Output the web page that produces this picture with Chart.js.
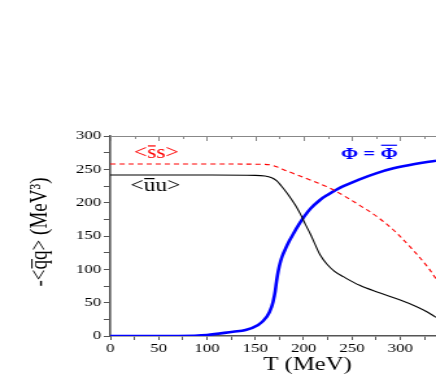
<!DOCTYPE html>
<html>
<head>
<meta charset="utf-8">
<script src="https://cdn.jsdelivr.net/npm/chart.js@4.4.0/dist/chart.umd.min.js"></script>
<style>
  html, body { margin: 0; padding: 0; background: #fff; overflow: hidden; }
  #wrap { width: 436px; height: 382px; }
  /* the original figure is stretched sideways */
  #condChart { transform: scaleX(1.2976); transform-origin: 0 0; display: block; }
</style>
</head>
<body>
<div id="wrap"><canvas id="condChart" width="336" height="382"></canvas></div>
<script>
// temperature grids (MeV) and condensates
const tUU = [0, 100, 150, 160, 167, 172, 177, 182, 187, 192, 197, 202, 207, 212, 217, 224, 232, 241, 258, 276, 300, 317, 328, 337];
const uuVals = [241.5, 241.5, 241, 240, 237.5, 233, 225, 216, 206, 195, 182, 167, 153, 137, 122, 108, 97, 89, 76, 66, 54, 44, 36, 28];

const tSS = [0, 100, 160, 166, 172, 180, 189, 205, 224, 241, 258, 276, 293, 310, 327, 337];
const ssVals = [258, 258, 257.5, 256.5, 254, 249, 244, 235, 224, 211, 196, 179, 159, 134, 106, 86];

const tPhi = [0, 70, 100, 127, 140, 153, 162, 167, 170, 172, 174, 176, 178, 181, 185, 190, 195, 200, 207, 217, 224, 240, 258, 275, 293, 315, 337];
const phiVals = [0, 0, 1.5, 6.5, 9, 16.5, 29, 44, 62, 82, 99, 111, 120, 130, 142, 155, 167, 178, 191, 204, 211, 224, 235, 244, 251.5, 258, 263];

const xTicks = [0, 50, 100, 150, 200, 250, 300];
const yTicks = [0, 50, 100, 150, 200, 250, 300];

// curve labels; bar = index of the character carrying the overline
const curveLabels = ['<ss>', '<uu>', '\u03A6 = \u03A6'];
const labelBar = [1, 1, 4];
const labelAt = [[47.6, 274], [46.5, 225], [268, 272]];   // data coords
const labelColor = ['#ff0000', '#000000', '#0000ff'];

const xTitle = 'T (MeV)';
const yTitle = '-<q\u0305q> (MeV\u00B3)';

const serif = '"Liberation Serif", "DejaVu Serif", serif';

function pts(xs, ys) {
  return xs.map((x, i) => ({ x: x, y: ys[i] }));
}

// minor ticks every 25
function tickList(max) {
  const out = [];
  for (let v = 0; v <= max; v += 25) out.push({ value: v });
  return out;
}

function barText(ctx, txt, bar, cx, cy, lift) {
  const w = ctx.measureText(txt).width;
  const x0 = cx - w / 2;
  ctx.textAlign = 'left';
  ctx.fillText(txt, x0, cy);
  const a = ctx.measureText(txt.slice(0, bar)).width;
  const b = ctx.measureText(txt.slice(0, bar + 1)).width;
  ctx.fillRect(x0 + a + 0.5, cy - lift, b - a - 1, 1.2);
}

const extras = {
  id: 'extras',
  afterDatasetsDraw(chart) {
    const ctx = chart.ctx;
    const xs = chart.scales.x, ys = chart.scales.y;
    const a = chart.chartArea;
    ctx.save();
    ctx.textBaseline = 'middle';
    curveLabels.forEach((txt, i) => {
      ctx.fillStyle = labelColor[i];
      ctx.font = (i === 2 ? 'bold 16px ' : '18px ') + serif;
      barText(ctx, txt, labelBar[i], xs.getPixelForValue(labelAt[i][0]),
        ys.getPixelForValue(labelAt[i][1]), i === 2 ? 10 : 8);
    });

    // axis titles
    ctx.textAlign = 'center';
    ctx.fillStyle = '#000';
    ctx.font = '19px ' + serif;
    ctx.fillText(xTitle, 237, 365);
    ctx.save();
    ctx.translate(31, 232);
    ctx.rotate(-Math.PI / 2);
    ctx.fillText(yTitle, 0, 0);
    ctx.restore();

    // top frame line with inward ticks
    ctx.strokeStyle = '#888';
    ctx.lineWidth = 1;
    ctx.beginPath();
    ctx.moveTo(a.left, a.top + 0.5);
    ctx.lineTo(a.right, a.top + 0.5);
    tickList(336).forEach(t => {
      const px = Math.round(xs.getPixelForValue(t.value)) + 0.5;
      ctx.moveTo(px, a.top);
      ctx.lineTo(px, a.top + (t.value % 50 === 0 ? 5 : 3));
    });
    ctx.stroke();
    ctx.restore();
  }
};

new Chart(document.getElementById('condChart'), {
  type: 'line',
  data: {
    datasets: [
      {
        label: 'uu',
        data: pts(tUU, uuVals),
        borderColor: '#000000',
        borderWidth: 1.1,
        pointRadius: 0,
        tension: 0.35
      },
      {
        label: 'ss',
        data: pts(tSS, ssVals),
        borderColor: '#ff0000',
        borderWidth: 1.1,
        borderDash: [4, 3],
        pointRadius: 0,
        tension: 0.35
      },
      {
        label: 'phi',
        data: pts(tPhi, phiVals),
        borderColor: '#0000ff',
        borderWidth: 2.6,
        pointRadius: 0,
        tension: 0.35
      }
    ]
  },
  options: {
    responsive: false,
    animation: false,
    layout: { padding: { top: 136, right: 0, left: 0, bottom: 0 } },
    plugins: {
      legend: { display: false },
      tooltip: { enabled: false }
    },
    scales: {
      x: {
        type: 'linear',
        min: 0,
        max: 337,
        afterBuildTicks: axis => { axis.ticks = tickList(336); },
        afterFit: scale => { scale.height = 46; },
        border: { color: '#555', width: 1.6 },
        grid: { drawOnChartArea: false, tickLength: 4, color: '#555' },
        ticks: {
          autoSkip: false,
          maxRotation: 0,
          padding: 1,
          color: '#000',
          font: { family: serif, size: 13 },
          callback: v => (xTicks.includes(v) ? String(v) : '')
        }
      },
      y: {
        min: 0,
        max: 300,
        afterBuildTicks: axis => { axis.ticks = tickList(300); },
        afterFit: scale => { scale.width = 85; },
        border: { color: '#555', width: 1.6 },
        grid: { drawOnChartArea: false, tickLength: 5, color: '#555' },
        ticks: {
          autoSkip: false,
          padding: 2,
          color: '#000',
          font: { family: serif, size: 13 },
          callback: v => (yTicks.includes(v) ? String(v) : '')
        }
      }
    }
  },
  plugins: [extras]
});
</script>
</body>
</html>
